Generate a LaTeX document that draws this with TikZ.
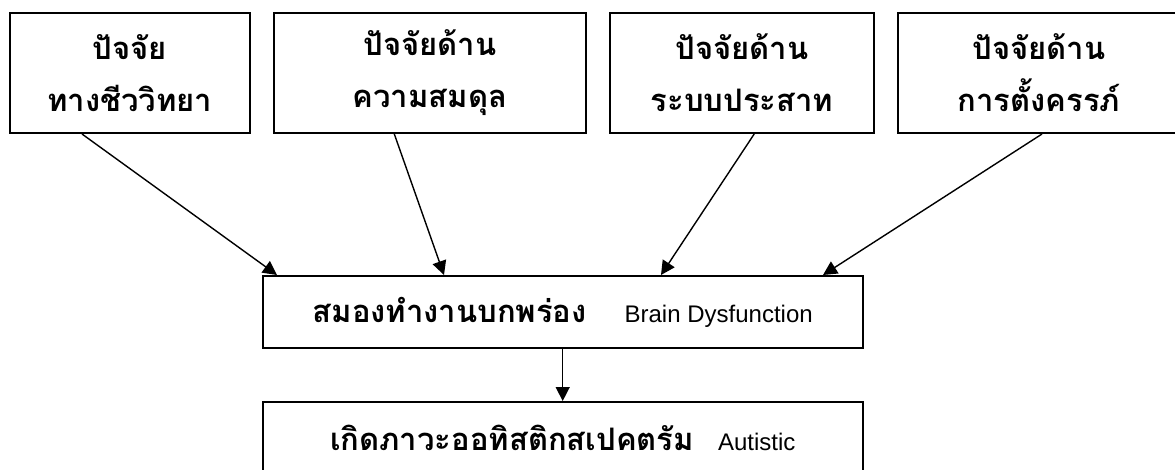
\documentclass[tikz,border=0pt]{standalone}
\usepackage{fontspec}
\setmainfont{Liberation Sans}
\newfontfamily\thai[Script=Thai]{Loma}
\usetikzlibrary{arrows.meta}
\begin{document}
\begin{tikzpicture}[x=1pt,y=-1pt,
  box/.style={draw, line width=2pt, inner sep=0pt, align=center,
    font=\thai\bfseries\fontsize{31}{52}\selectfont},
  topbox/.style={box, minimum height=120pt},
  wide/.style={box, minimum width=600pt, minimum height=72pt},
  arr/.style={line width=1.4pt, -{Triangle[length=14pt,width=14pt]}}]
\newcommand\latintext[1]{{\normalfont\fontsize{24}{28}\selectfont #1}}
\clip (0,0) rectangle (1175,469);
\fill[white] (0,0) rectangle (1175,469);
\node[topbox, minimum width=240.4pt] (b1) at (129.8,73) {ปัจจัย\\ทางชีววิทยา};
\node[topbox, minimum width=312pt] (b2) at (430,73) {ปัจจัยด้าน\\ความสมดุล};
\node[topbox, minimum width=264pt] (b3) at (742,73) {ปัจจัยด้าน\\ระบบประสาท};
\node[topbox, minimum width=282pt] (b4) at (1039,73) {ปัจจัยด้าน\\การตั้งครรภ์};
\node[wide] (mid) at (562.7,312) {สมองทำงานบกพร่อง\hspace*{38pt}\latintext{Brain Dysfunction}};
\node[wide] (bot) at (562.7,438) {เกิดภาวะออทิสติกสเปคตรัม\hspace*{24pt}\latintext{Autistic}};
\draw[arr] ([xshift=-47.8pt]b1.south) -- ([xshift=-285.7pt]mid.north);
\draw[arr] ([xshift=-35.7pt]b2.south) -- ([xshift=-118.7pt]mid.north);
\draw[arr] ([xshift=12.2pt]b3.south) -- ([xshift=98.3pt]mid.north);
\draw[arr] ([xshift=3pt]b4.south) -- ([xshift=260.3pt]mid.north);
\draw[arr] (mid.south) -- (bot.north);
\end{tikzpicture}
\end{document}
